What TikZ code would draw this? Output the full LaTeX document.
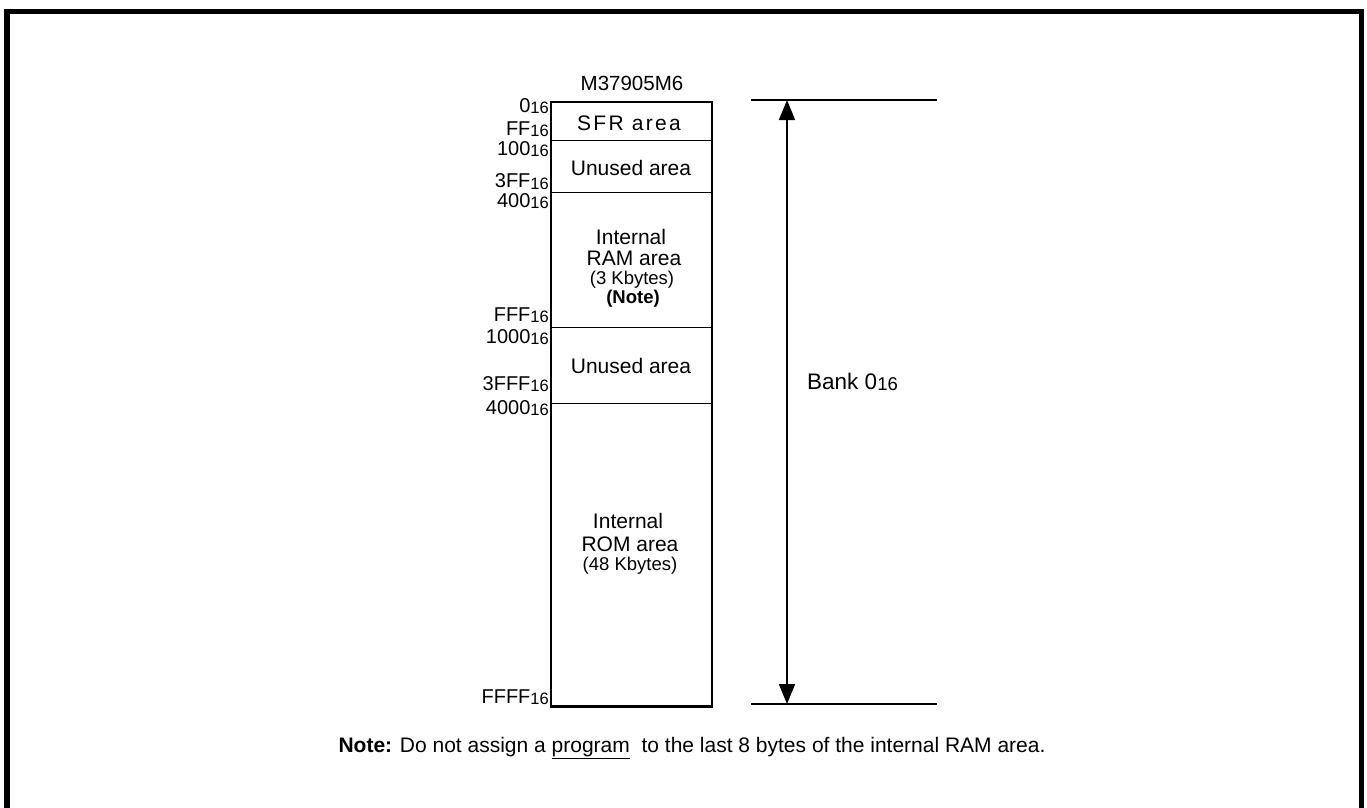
\documentclass[tikz,border=0pt]{standalone}
\usepackage{fontspec}
\setmainfont{Liberation Sans}
\usetikzlibrary{arrows.meta}
\newcommand{\hexsub}[1]{\raisebox{-1.3pt}{\fontsize{#1}{#1}\selectfont 16}}
\tikzset{
  frame/.style={line width=5.5pt},
  region/.style={draw, line width=1.4pt, minimum width=159.5pt, inner sep=0pt, anchor=north west},
  addr/.style={anchor=east, inner sep=0pt, font=\fontsize{20}{20}\selectfont},
  lbl/.style={inner sep=0pt, font=\fontsize{21}{21}\selectfont},
  small/.style={inner sep=0pt, font=\fontsize{18.5}{18.5}\selectfont},
  guide/.style={line width=1.4pt},
  bankarrow/.style={line width=1.8pt, {Triangle[width=16pt,length=20pt]}-{Triangle[width=16pt,length=20pt]}},
}
\begin{document}
\begin{tikzpicture}[x=1pt,y=-1pt]
\useasboundingbox (0,0) rectangle (1367,807);
% outer frame (bottom edge lies outside the picture)
\draw[frame] (7,830) -- (7,11.5) -- (1361.5,11.5) -- (1361.5,830);

% title
\node[lbl, font=\fontsize{20.5}{20.5}\selectfont] (title) at (632,83) {M37905M6};

% memory regions
\node[region, minimum height=38pt] (sfr) at (551,102) {};
\node[region, minimum height=51.5pt] (unA) at (551,140) {};
\node[region, minimum height=135pt] (ram) at (551,191.5) {};
\node[region, minimum height=76pt] (unB) at (551,326.5) {};
\node[region, minimum height=302.5pt] (rom) at (551,402.5) {};
\draw[line width=2.3pt] (sfr.north west) rectangle (rom.south east);

% region labels
\node[lbl] (sfrt) at (629,123) {\addfontfeature{LetterSpace=11}SFR area};
\node[lbl] (unAt) at (631,168) {Unused area};
\node[lbl] (ramt1) at (631,237) {Internal};
\node[lbl] (ramt2) at (634,258) {RAM area};
\node[small] (ramt3) at (632,280) {(3 Kbytes)};
\node[small, font=\fontsize{18.5}{18.5}\selectfont\bfseries] (ramt4) at (633,299) {(Note)};
\node[lbl] (unBt) at (631,366) {Unused area};
\node[lbl] (romt1) at (628,521) {Internal};
\node[lbl] (romt2) at (630,544) {ROM area};
\node[small] (romt3) at (630,566) {(48 Kbytes)};

% addresses
\node[addr] (a0) at (549,106) {0\hexsub{16.5}};
\node[addr] (a1) at (549,129) {FF\hexsub{16.5}};
\node[addr] (a2) at (549,149) {100\hexsub{16.5}};
\node[addr] (a3) at (549,181.5) {3FF\hexsub{16.5}};
\node[addr] (a4) at (549,201) {400\hexsub{16.5}};
\node[addr] (a5) at (549,315) {FFF\hexsub{16.5}};
\node[addr] (a6) at (549,337) {1000\hexsub{16.5}};
\node[addr] (a7) at (549,384) {3FFF\hexsub{16.5}};
\node[addr] (a8) at (549,408) {4000\hexsub{16.5}};
\node[addr] (a9) at (549,697) {FFFF\hexsub{16.5}};

% bank extent
\coordinate (tl) at (751,100);
\coordinate (tr) at (937,100);
\coordinate (bl) at (751,704);
\coordinate (br) at (937,704);
\coordinate (btop) at (787,100);
\coordinate (bbot) at (787,704);
\draw[guide] (tl) -- (tr);
\draw[guide] (bl) -- (br);
\draw[bankarrow] (btop) -- (bbot);
\node[lbl, anchor=west, font=\fontsize{22.5}{22.5}\selectfont] (bank) at (807,382) {Bank 0\hexsub{18.5}};

% note
\node[inner sep=0pt, font=\fontsize{21}{21}\selectfont] (note) at (692,748)
  {\textbf{Note:} Do not assign a \underline{program}\ \ to the last 8 bytes of the internal RAM area.};
\end{tikzpicture}
\end{document}
